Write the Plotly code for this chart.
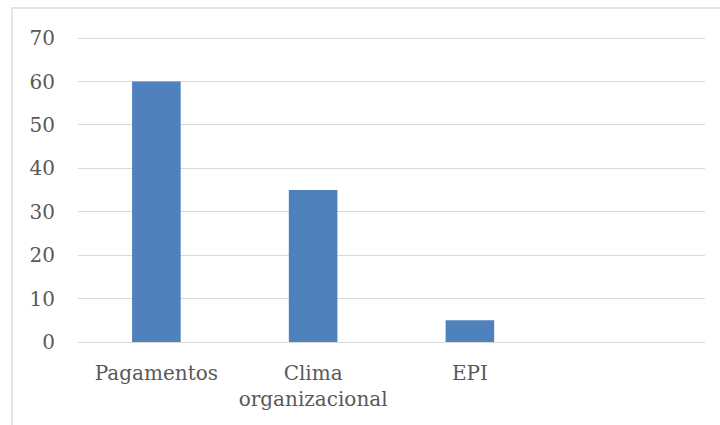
import plotly.graph_objects as go

categories = ["Pagamentos", "Clima<br>organizacional", "EPI"]
values = [60, 35, 5]
y_ticks = [0, 10, 20, 30, 40, 50, 60, 70]

W, H = 720, 425
ml, mr, mt, mb = 78, 15, 36, 83
pw = W - ml - mr
ph = H - mt - mb

fig = go.Figure(go.Bar(
    x=list(range(len(categories))), y=values,
    marker=dict(color="#4F81BD", line=dict(width=0)),
    width=0.31,
))

fig.update_layout(
    width=W, height=H,
    margin=dict(l=ml, r=mr, t=mt, b=mb),
    paper_bgcolor="white", plot_bgcolor="white",
    font=dict(family="DejaVu Serif", size=20, color="#595959"),
    showlegend=False,
    xaxis=dict(
        range=[-0.5, 3.5],
        tickmode="array", tickvals=list(range(len(categories))), ticktext=categories,
        showgrid=False, zeroline=False, showline=False,
        ticks="", ticklabelstandoff=17,
    ),
    yaxis=dict(
        range=[0, 70.5], tickmode="array", tickvals=y_ticks,
        showgrid=True, gridcolor="#D9D9D9", gridwidth=1.3,
        zeroline=True, zerolinecolor="#D9D9D9", zerolinewidth=1.3,
        showline=False, ticks="", ticklabelstandoff=22,
    ),
    shapes=[dict(
        type="rect", xref="paper", yref="paper",
        x0=(12 - ml) / pw, x1=(W + 20 - ml) / pw,
        y0=-(H + 20 - mt - ph) / ph, y1=1 + (mt - 8) / ph,
        line=dict(color="#D9D9D9", width=1.3), fillcolor="rgba(0,0,0,0)",
        layer="below",
    )],
)

fig.write_html("out.html")
